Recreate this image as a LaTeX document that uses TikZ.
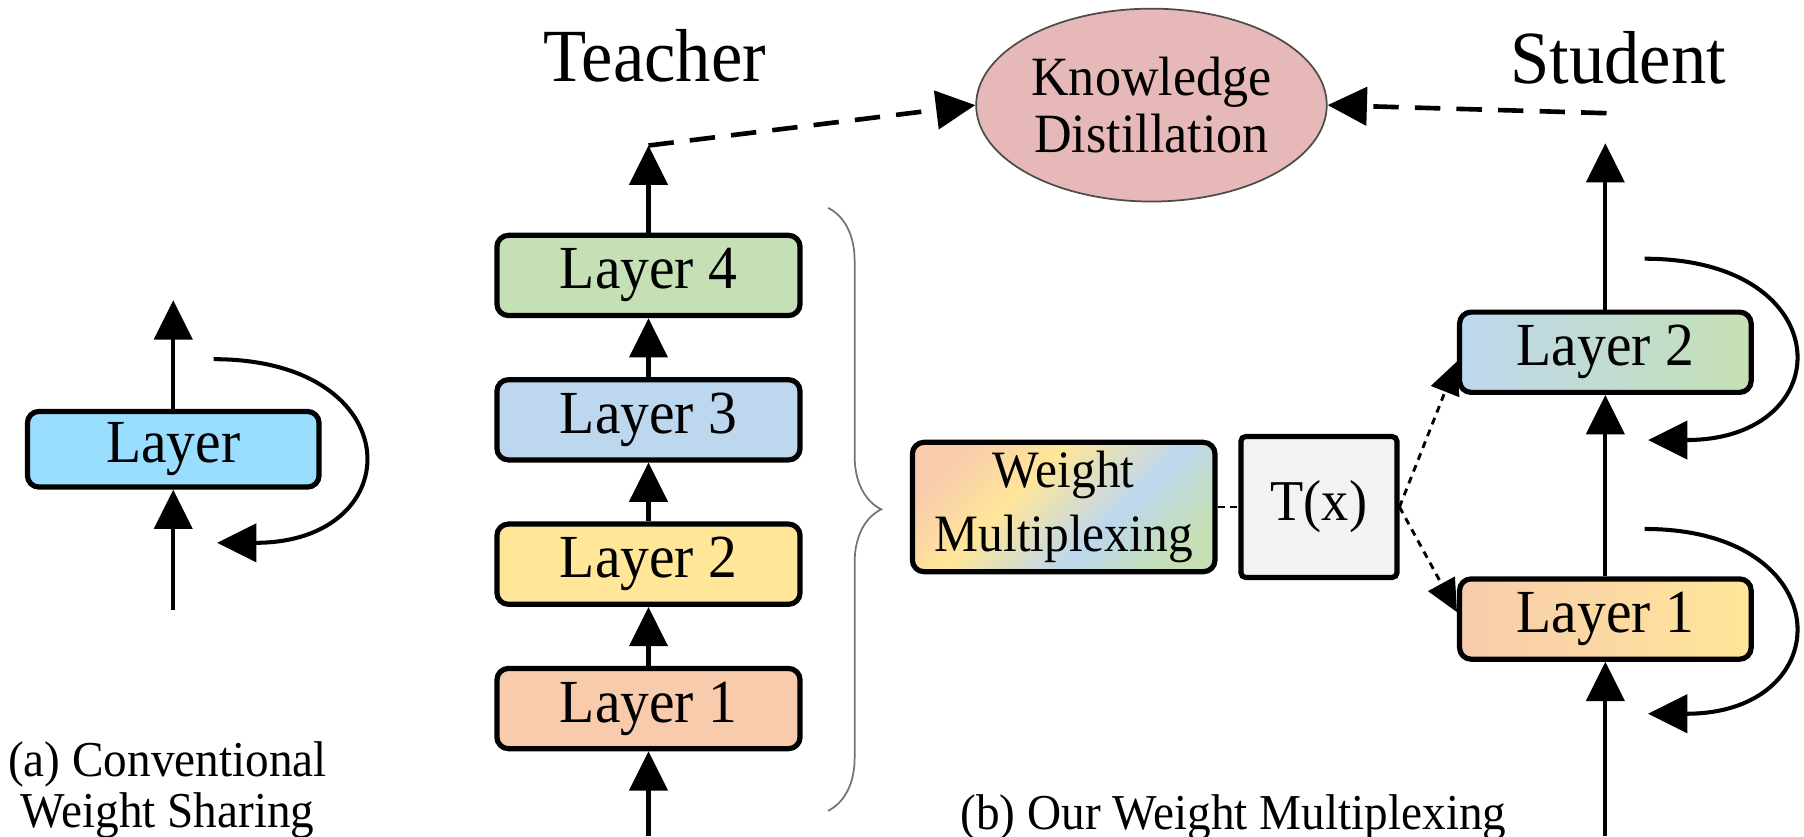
\documentclass[tikz,border=0pt]{standalone}
\usepackage{fontspec}
\setmainfont{Liberation Serif}[FakeStretch=0.94]
\usepackage{tikz}
\usetikzlibrary{arrows.meta,shapes.geometric,decorations.pathreplacing}

\definecolor{lorange}{RGB}{248,203,173}
\definecolor{lyellow}{RGB}{255,230,153}
\definecolor{lblue}{RGB}{189,215,238}
\definecolor{lgreen}{RGB}{197,224,180}
\definecolor{lcyan}{RGB}{153,221,255}
\definecolor{lpink}{RGB}{230,184,183}
\definecolor{lgray}{RGB}{242,242,242}
\pgfdeclarehorizontalshading{wmshade}{100bp}{color(0bp)=(lorange); color(24bp)=(lorange); color(40bp)=(lyellow); color(60bp)=(lblue); color(76bp)=(lgreen); color(100bp)=(lgreen)}

\begin{document}
\begin{tikzpicture}[x=1pt,y=-1pt,>={Triangle[length=34pt,width=33pt]},line width=3.5pt,node distance=125pt,
	layer/.style={shape=rectangle,rounded corners=10pt,draw,line width=4.5pt,minimum width=262.5pt,minimum height=69.5pt,inner sep=0pt,font=\fontsize{53}{53}\selectfont},
	headline/.style={font=\fontsize{65}{65}\selectfont},
	caption/.style={font=\fontsize{43.5}{45}\selectfont,align=center},
	reuse/.style={->,line width=3.5pt},
	kdline/.style={->,dash pattern=on 22pt off 14pt,line width=4pt},
	txline/.style={->,dash pattern=on 6pt off 5pt,line width=2.5pt,>={Triangle[length=28pt,width=26pt]}}]
					\useasboundingbox (0,0) rectangle (1562,724.7);

					\node (lay) [layer,fill=lcyan,minimum width=252.5pt,minimum height=65.5pt] at (150,389) {Layer};
					\coordinate (lin) at (150,528);
					\coordinate (lout) at (150,260);
					\coordinate (lfrom) at (185,311);
					\coordinate (lto) at (188,470);
					\draw[->] (lin) -- (lay);
					\draw[->] (lay) -- (lout);
					\draw[reuse] (lfrom) .. controls (356,311) and (356,470) .. (lto);
					\node (capa) [caption] at (145,684) {(a) Conventional\\Weight Sharing};

					\node (kd) [shape=ellipse,draw=black!70,line width=1.5pt,fill=lpink,minimum width=296pt,minimum height=167pt,align=center,font=\fontsize{48}{50}\selectfont] at (997,91) {Knowledge\\Distillation};
					\node (teacher) [headline] at (567,48) {Teacher};
					\node (student) [headline] at (1401,50) {Student};

					\node (tone) [layer,fill=lorange] at (561.5,613.5) {Layer 1};
					\node (ttwo) [layer,fill=lyellow] [above of = tone] {Layer 2};
					\node (tthree) [layer,fill=lblue] [above of = ttwo] {Layer 3};
					\node (tfour) [layer,fill=lgreen] [above of = tthree] {Layer 4};
					\coordinate (tin) at (561.5,724);
					\coordinate (tout) at (561.5,126);
					\draw[->] (tin) -- (tone);
					\path[->] (tone) edge (ttwo) (ttwo) edge (tthree) (tthree) edge (tfour);
					\draw[->] (tfour) -- (tout);
					\draw[kdline] (tout) -- (kd.west);

					\draw[decorate,decoration={brace,amplitude=46pt},draw=black!55,line width=1.5pt] (717,180) -- (717,702);

					\node (wm) [shape=rectangle,rounded corners=10pt,draw,shade,shading=wmshade,shading angle=-45,line width=4.5pt,minimum width=262pt,minimum height=112pt,align=center,font=\fontsize{45.5}{55}\selectfont] at (921,439) {Weight\\Multiplexing};
					\node (tx) [shape=rectangle,rounded corners=4pt,draw,fill=lgray,line width=4.5pt,minimum width=135pt,minimum height=122pt,font=\fontsize{50}{50}\selectfont] at (1142,439) {T(x)};
					\draw[dash pattern=on 6pt off 5pt,line width=2.5pt] (wm) -- (tx);

					\node (sone) [layer,left color=lorange,right color=lyellow,minimum width=252.5pt] at (1390,536) {Layer 1};
					\node (stwo) [layer,left color=lblue,right color=lgreen,minimum width=252.5pt] at (1390,305) {Layer 2};
					\coordinate (sin) at (1390,724);
					\coordinate (sout) at (1390,124);
					\coordinate (skd) at (1391,98);
					\draw[->] (sin) -- (sone);
					\draw[->] (sone) -- (stwo);
					\draw[->] (stwo) -- (sout);
					\draw[kdline] (skd) -- (kd.east);
					\draw[txline] (tx.east) -- ([yshift=-8pt]stwo.west);
					\draw[txline] (tx.east) -- ([yshift=6pt]sone.west);

					\coordinate (sa) at (1424,224);
					\coordinate (sb) at (1427,381);
					\coordinate (sc) at (1424,458);
					\coordinate (sd) at (1427,618);
					\draw[reuse] (sa) .. controls (1594,224) and (1594,381) .. (sb);
					\draw[reuse] (sc) .. controls (1594,458) and (1594,618) .. (sd);

					\node (capb) [caption] at (1068,708) {(b) Our Weight Multiplexing};
				\end{tikzpicture}
\end{document}
